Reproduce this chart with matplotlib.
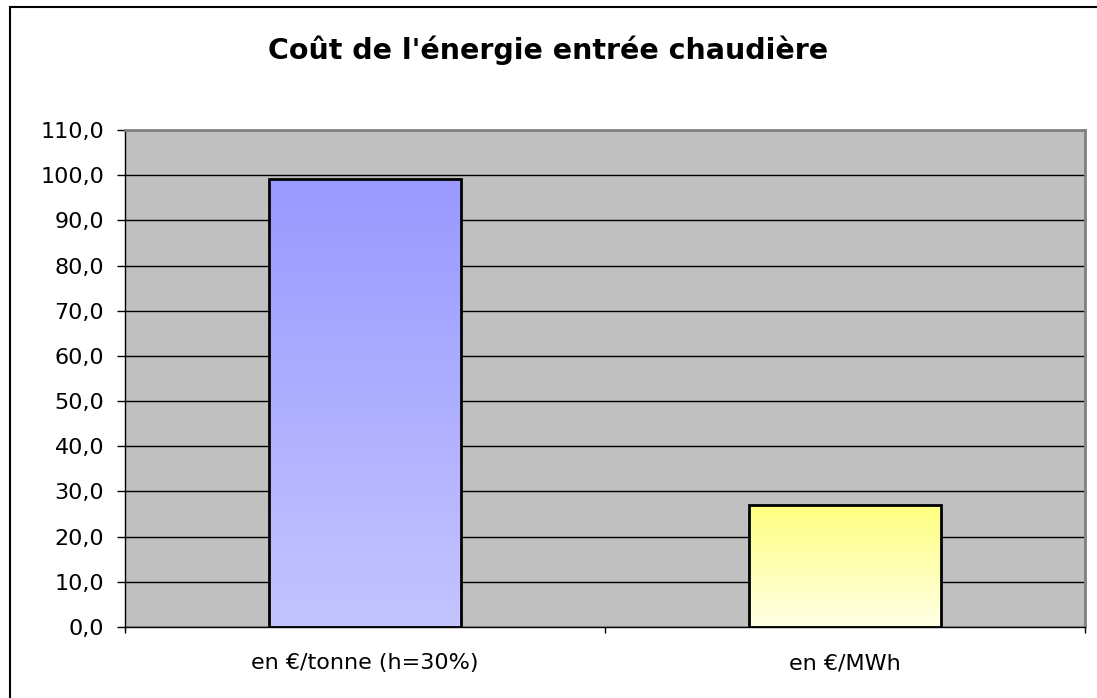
import matplotlib
matplotlib.use("Agg")
import matplotlib.pyplot as plt
import numpy as np
from matplotlib.patches import Rectangle
from matplotlib.colors import LinearSegmentedColormap

categories = ["en €/tonne (h=30%)", "en €/MWh"]
values = [99.2, 26.9]
yticks = [0, 10, 20, 30, 40, 50, 60, 70, 80, 90, 100, 110]
grad_colors = [("#C4C4FF", "#9999FF"), ("#FFFFE6", "#FFFF80")]

plt.rcParams["font.family"] = ["DejaVu Sans"]

fig = plt.figure(figsize=(10.97, 6.98), dpi=100)
W, H = 1097, 698
ax = fig.add_axes([125 / W, 1 - 627 / H, 960 / W, 497 / H])
ax.set_facecolor("#C0C0C0")

# outer chart border
fig.patches.append(Rectangle((10 / W, -0.01), 1.0, 1 - 7 / H + 0.01,
                             transform=fig.transFigure, fill=False,
                             edgecolor="black", linewidth=1.5))

ax.set_xlim(0, 2)
ax.set_ylim(0, 110)
ax.set_yticks(yticks)
ax.set_yticklabels([f"{v:.1f}".replace(".", ",") for v in yticks], fontsize=16)
ax.yaxis.grid(True, color="black", linewidth=1)
ax.set_axisbelow(True)

ax.set_xticks([0, 1, 2])
ax.set_xticklabels([])
ax.set_xticks([0.5, 1.5], minor=True)
ax.set_xticklabels(categories, minor=True, fontsize=16)
ax.tick_params(axis="x", which="minor", length=0, pad=19)
ax.tick_params(axis="x", which="major", length=4.5, width=1, direction="out")
ax.tick_params(axis="y", length=6, width=1, direction="out", pad=9)

bars = ax.bar([0.5, 1.5], values, width=0.4, edgecolor="black",
              linewidth=2, facecolor="none", zorder=3)
for bar, (bot, top) in zip(bars, grad_colors):
    cmap = LinearSegmentedColormap.from_list("g", [bot, top])
    x0, w, h = bar.get_x(), bar.get_width(), bar.get_height()
    img = ax.imshow(np.linspace(0, 1, 256).reshape(-1, 1), cmap=cmap,
                    origin="lower", aspect="auto",
                    extent=[x0, x0 + w, 0, h], zorder=2)
    img.set_clip_path(bar)

for s in ["top", "right"]:
    ax.spines[s].set_color("#808080")
    ax.spines[s].set_linewidth(2)
for s in ["left", "bottom"]:
    ax.spines[s].set_color("black")
    ax.spines[s].set_linewidth(1)

fig.text(548 / W, 1 - 50 / H, "Coût de l'énergie entrée chaudière",
         ha="center", va="center", fontsize=20.5, fontweight="bold")

fig.savefig("out.png", dpi=100)
